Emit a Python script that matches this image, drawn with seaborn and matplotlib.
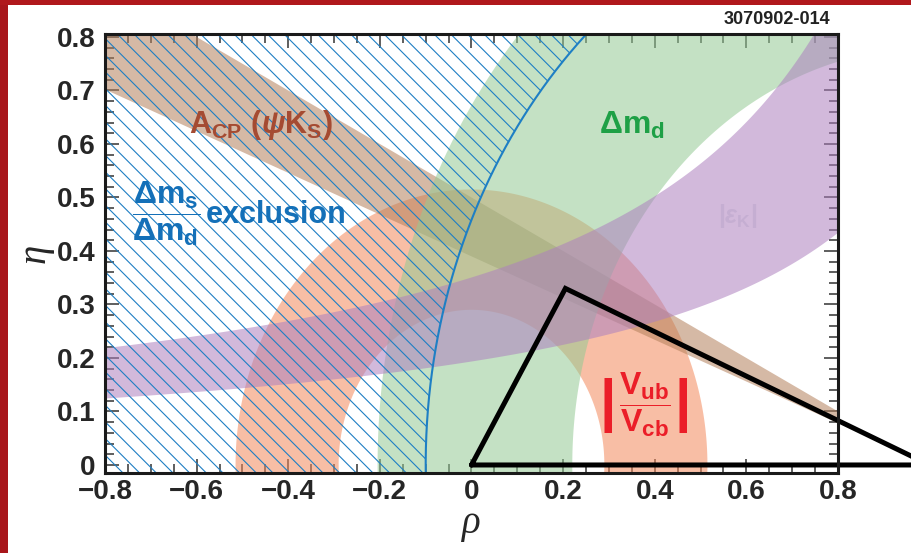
import numpy as np
import matplotlib
matplotlib.use("Agg")
import matplotlib.pyplot as plt
from matplotlib.ticker import MultipleLocator
from matplotlib.patches import Rectangle
import seaborn as sns

# ---- axis ticks -------------------------------------------------------------
x_ticks = [-0.8, -0.6, -0.4, -0.2, 0.0, 0.2, 0.4, 0.6, 0.8]
x_tick_labels = ["\u22120.8", "\u22120.6", "\u22120.4", "\u22120.2", "0", "0.2", "0.4", "0.6", "0.8"]
y_ticks = [0.0, 0.1, 0.2, 0.3, 0.4, 0.5, 0.6, 0.7, 0.8]
y_tick_labels = ["0", "0.1", "0.2", "0.3", "0.4", "0.5", "0.6", "0.7", "0.8"]

# ---- constraint bands in the (rho, eta) plane ---------------------------------
vub_radii = [0.29, 0.515]          # |Vub/Vcb| annulus centred on (0, 0)
dmd_radii = [0.78, 1.205]          # Delta m_d annulus centred on (1, 0)
dms_limit_radius = 1.10            # Delta m_s / Delta m_d exclusion circle about (1, 0)
acp_slopes = [0.39, 0.50]          # A_CP(psi K_S): eta / (1 - rho) on the wedge edges
epsk_lower = [0.281, 1.445]        # eps_K lower edge: eta = k / (a - rho)  -> [k, a]
epsk_upper = [0.466, 1.325]        # eps_K upper edge

# ---- unitarity triangle -------------------------------------------------------
triangle_rho = [0.0, 0.205, 1.0, 0.0]
triangle_eta = [0.0, 0.33, 0.0, 0.0]

# ---- style ------------------------------------------------------------------
sns.set_style("ticks")
plt.rcParams["font.family"] = ["Liberation Sans", "DejaVu Sans"]
plt.rcParams["font.weight"] = "bold"
plt.rcParams["mathtext.fontset"] = "custom"
plt.rcParams["mathtext.rm"] = "Liberation Sans:bold"
plt.rcParams["mathtext.bf"] = "Liberation Sans:bold"
plt.rcParams["mathtext.it"] = "Liberation Sans:italic:bold"
plt.rcParams["hatch.linewidth"] = 0.8

c_vub = "#f4895b"
c_acp = "#b4805b"
c_dmd = "#94ca94"
c_epsk = "#ad80bf"
band_alpha = 0.55
c_excl = "#1e7fc4"

W, H = 912, 553
fig = plt.figure(figsize=(W / 100, H / 100), dpi=100)
ax = fig.add_axes([105 / W, 1 - 473 / H, (838 - 105) / W, (473 - 34) / H])
ax.set_facecolor("white")


def annulus(cx, r_in, r_out):
    th = np.linspace(-0.15, np.pi + 0.15, 500)
    xo = cx + r_out * np.cos(th)
    yo = r_out * np.sin(th)
    xi = cx + r_in * np.cos(th[::-1])
    yi = r_in * np.sin(th[::-1])
    return np.concatenate([xo, xi]), np.concatenate([yo, yi])


# |Vub/Vcb|
vx, vy = annulus(0.0, *vub_radii)
ax.fill(vx, vy, color=c_vub, alpha=band_alpha, lw=0, zorder=1)

# A_CP(psi K_S) wedge from (1, 0)
ax.fill([1.0, -1.0, -1.0], [0.0, 2.0 * acp_slopes[0], 2.0 * acp_slopes[1]],
        color=c_acp, alpha=band_alpha, lw=0, zorder=1.2)

# Delta m_d
gx, gy = annulus(1.0, *dmd_radii)
ax.fill(gx, gy, color=c_dmd, alpha=band_alpha, lw=0, zorder=1.4)

# eps_K hyperbolic band
rho = np.linspace(-0.9, 0.9, 500)
lo = epsk_lower[0] / (epsk_lower[1] - rho)
hi = epsk_upper[0] / (epsk_upper[1] - rho)
ax.fill_between(rho, lo, hi, color=c_epsk, alpha=band_alpha, lw=0, zorder=1.6)

# Delta m_s / Delta m_d exclusion (hatched region left of the circle)
eta = np.linspace(-0.04, 0.83, 400)
rho_edge = 1.0 - np.sqrt(dms_limit_radius ** 2 - eta ** 2)
ax.fill_betweenx(eta, -0.95, rho_edge, facecolor="none", edgecolor=c_excl,
                 hatch="\\\\", lw=0, zorder=3)
sns.lineplot(x=rho_edge, y=eta, sort=False, estimator=None, color=c_excl,
             lw=1.5, ax=ax, zorder=3.5)

# unitarity triangle
sns.lineplot(x=triangle_rho, y=triangle_eta, sort=False, estimator=None,
             color="black", lw=3.6, ax=ax, zorder=6, clip_on=False,
             solid_joinstyle="miter")

# ---- axes -------------------------------------------------------------------
ax.set_xlim(-0.8, 0.8)
ax.set_ylim(-0.015, 0.8056)
ax.set_xticks(x_ticks)
ax.set_xticklabels(x_tick_labels)
ax.set_yticks(y_ticks)
ax.set_yticklabels(y_tick_labels)
ax.xaxis.set_minor_locator(MultipleLocator(0.05))
ax.yaxis.set_minor_locator(MultipleLocator(0.02))
ax.tick_params(which="both", direction="in", top=True, right=True,
               color="#333333", width=1.1, zorder=7)
ax.tick_params(which="major", length=10, labelsize=20)
ax.tick_params(which="minor", length=6.5)
ax.tick_params(axis="x", pad=4)
ax.tick_params(axis="y", pad=7)
for lab in ax.get_xticklabels() + ax.get_yticklabels():
    lab.set_fontweight("bold")
for sp in ax.spines.values():
    sp.set_linewidth(2.2)
    sp.set_color("#1a1a1a")
    sp.set_zorder(8)

ax.set_xlabel("\u03c1", fontsize=28, fontstyle="italic", fontweight="normal",
              family="Liberation Serif", labelpad=0)
ax.set_ylabel("\u03b7", fontsize=28, fontstyle="italic", fontweight="normal",
              family="Liberation Serif", labelpad=2)

# ---- band labels --------------------------------------------------------------
ax.text(-0.616, 0.636, r"$\mathbf{A}_{\mathbf{CP}}\ (\psi\mathbf{K}_{\mathbf{S}})$",
        color="#a54b32", fontsize=22, ha="left", va="center", zorder=9)
ax.text(-0.666, 0.47, r"$\dfrac{\mathbf{\Delta m_s}}{\mathbf{\Delta m_d}}$",
        color="#1470b8", fontsize=23, ha="center", va="center", zorder=9)
ax.text(-0.579, 0.467, "exclusion", color="#1470b8", fontsize=22,
        fontweight="bold", ha="left", va="center", zorder=9)
ax.text(0.279, 0.634, r"$\mathbf{\Delta m_d}$", color="#1ea046", fontsize=23,
        ha="left", va="center", zorder=9)
ax.text(0.58, 0.465, r"$|\varepsilon_{\mathbf{K}}|$", color="#c5aed2", fontsize=18,
        ha="center", va="center", zorder=9)
ax.text(0.379, 0.112, r"$\dfrac{\mathbf{V_{ub}}}{\mathbf{V_{cb}}}$", color="#eb1e28",
        fontsize=23, ha="center", va="center", zorder=9)
ax.text(0.297, 0.112, "|", color="#eb1e28", fontsize=42, ha="center",
        va="center", zorder=9)
ax.text(0.461, 0.112, "|", color="#eb1e28", fontsize=42, ha="center",
        va="center", zorder=9)

fig.text(830 / W, 1 - 20 / H, "3070902-014", fontsize=13, fontweight="bold",
         color="#222222", ha="right", va="center")

# page border
fig.add_artist(Rectangle((0, 0), 8 / W, 1, transform=fig.transFigure,
                         color="#a8161b", lw=0, zorder=10))
fig.add_artist(Rectangle((0, 1 - 5 / H), 1, 5 / H, transform=fig.transFigure,
                         color="#b0181c", lw=0, zorder=10))

fig.savefig("out.png", dpi=100)
